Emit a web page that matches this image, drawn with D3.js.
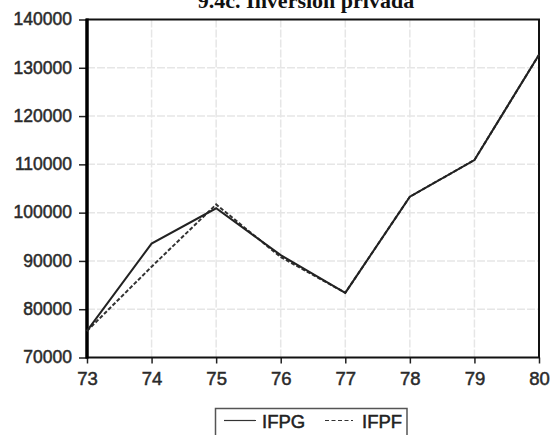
<!DOCTYPE html>
<html>
<head>
<meta charset="utf-8">
<script src="https://cdn.jsdelivr.net/npm/d3@7"></script>
<style>
  body { margin: 0; background: #fff; }
  svg { display: block; }
</style>
</head>
<body>
<svg id="chart"></svg>
<script>
// datos
const years = [73, 74, 75, 76, 77, 78, 79, 80];
const ifpg = [75500, 93600, 100900, 91200, 83400, 103300, 110900, 132700];
const ifpf = [75500, 88800, 101700, 90800, 83400, 103300, 110900, 132700];
const yTicks = [70000, 80000, 90000, 100000, 110000, 120000, 130000, 140000];
const seriesNames = ["IFPG", "IFPF"];

const width = 550, height = 435;
const margin = {left: 87, right: 11, top: 19.5, bottom: 77.5};
const sans = "Liberation Sans, Arial, sans-serif";

const svg = d3.select("#chart").attr("width", width).attr("height", height);

const x = d3.scaleLinear().domain([73, 80]).range([margin.left, width - margin.right]);
const y = d3.scaleLinear().domain([70000, 140000]).range([height - margin.bottom, margin.top]);

// rejilla
svg.append("g").selectAll("line")
  .data(yTicks.slice(1, -1))
  .enter().append("line")
  .attr("x1", x(73)).attr("x2", x(80))
  .attr("y1", d => y(d)).attr("y2", d => y(d))
  .attr("stroke", "#e6e6e6").attr("stroke-width", 1.5)
  .attr("stroke-dasharray", "8,2");
svg.append("g").selectAll("line")
  .data(years.slice(1, -1))
  .enter().append("line")
  .attr("x1", d => x(d)).attr("x2", d => x(d))
  .attr("y1", y(70000)).attr("y2", y(140000))
  .attr("stroke", "#e6e6e6").attr("stroke-width", 1.5)
  .attr("stroke-dasharray", "8,2");

// ejes
const yAxis = d3.axisLeft(y).tickValues(yTicks).tickSize(8).tickFormat(d3.format("d"));
const gy = svg.append("g").attr("transform", `translate(${x(73)},0)`).call(yAxis);
gy.select(".domain").remove();
gy.selectAll("line").attr("stroke", "#222").attr("stroke-width", 1.5);
gy.selectAll("text")
  .attr("font-family", sans)
  .attr("font-size", 17.5).attr("fill", "#2a2a2a")
  .attr("stroke", "#2a2a2a").attr("stroke-width", 0.5)
  .attr("x", -15).attr("dy", "0.3em");

const xAxis = d3.axisBottom(x).tickValues(years).tickSize(6).tickFormat(d => d);
const gx = svg.append("g").attr("transform", `translate(0,${y(70000)})`).call(xAxis);
gx.select(".domain").remove();
gx.selectAll("line").attr("stroke", "#222").attr("stroke-width", 1.5);
gx.selectAll("text")
  .attr("font-family", sans)
  .attr("font-size", 18.5).attr("fill", "#2a2a2a")
  .attr("stroke", "#2a2a2a").attr("stroke-width", 0.5)
  .attr("dy", "0").attr("y", 27.5);

// marco
svg.append("rect")
  .attr("x", x(73)).attr("y", y(140000))
  .attr("width", x(80) - x(73)).attr("height", y(70000) - y(140000))
  .attr("fill", "none").attr("stroke", "#111").attr("stroke-width", 2);
svg.append("line")
  .attr("x1", x(73)).attr("x2", x(73))
  .attr("y1", y(140000) - 1).attr("y2", y(70000) + 1)
  .attr("stroke", "#000").attr("stroke-width", 3.5);

// series
const line = d3.line().x((d, i) => x(years[i])).y(d => y(d));
svg.append("path").datum(ifpf)
  .attr("d", line).attr("fill", "none")
  .attr("stroke", "#333").attr("stroke-width", 2)
  .attr("stroke-dasharray", "4,2");
svg.append("path").datum(ifpg)
  .attr("d", line).attr("fill", "none")
  .attr("stroke", "#222").attr("stroke-width", 2);

// titulo
svg.append("text")
  .attr("x", 306).attr("y", 8)
  .attr("text-anchor", "middle")
  .attr("font-family", "Liberation Serif, Times New Roman, serif")
  .attr("font-size", 22).attr("font-weight", "bold").attr("fill", "#111")
  .text("9.4c. Inversión privada");

// leyenda
const lg = svg.append("g");
lg.append("path")
  .attr("d", "M215.5,437 V408.5 H407 V437")
  .attr("fill", "none").attr("stroke", "#555").attr("stroke-width", 1.5);
const items = [
  {name: seriesNames[0], x0: 224, x1: 256, tx: 262, dash: null},
  {name: seriesNames[1], x0: 325, x1: 353, tx: 362, dash: "4,2.5"}
];
items.forEach(it => {
  lg.append("line")
    .attr("x1", it.x0).attr("x2", it.x1).attr("y1", 420.5).attr("y2", 420.5)
    .attr("stroke", "#333").attr("stroke-width", 1.2)
    .attr("stroke-dasharray", it.dash);
  lg.append("text")
    .attr("x", it.tx).attr("y", 427.5)
    .attr("font-family", sans)
    .attr("font-size", 18.5).attr("fill", "#222")
    .attr("stroke", "#222").attr("stroke-width", 0.5)
    .text(it.name);
});
</script>
</body>
</html>
